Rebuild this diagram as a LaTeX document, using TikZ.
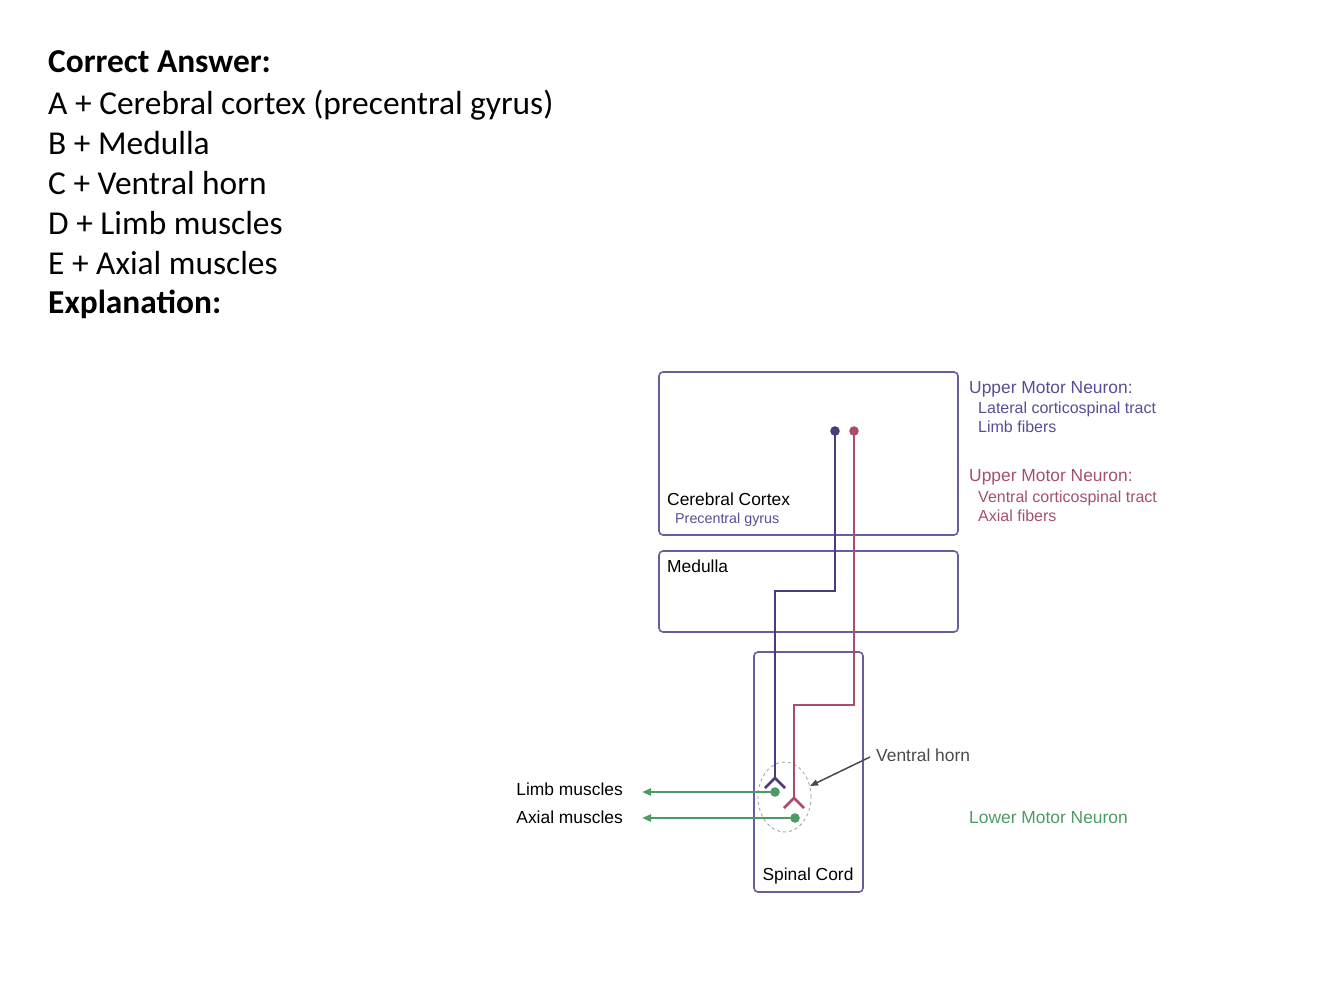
\documentclass[tikz,border=0pt]{standalone}
\usepackage{fontspec}
\setmainfont{Carlito}
\newfontfamily\hv{Liberation Sans}
\usetikzlibrary{arrows.meta,shapes.geometric}
\definecolor{boxpurple}{HTML}{6E5A9E}
\definecolor{umnpurple}{HTML}{4B3A7E}
\definecolor{umnred}{HTML}{A84E6C}
\definecolor{lmngreen}{HTML}{4E9A64}
\definecolor{labpurple}{HTML}{5B4B96}
\definecolor{labred}{HTML}{A5506A}
\definecolor{hornarrow}{HTML}{4A4A4A}
\begin{document}
\begin{tikzpicture}[x=1pt,y=-1pt,
  region/.style={draw=boxpurple,line width=1.6pt,rounded corners=4pt,inner sep=0pt},
  head/.style={anchor=base west,inner sep=0pt,font=\fontsize{33.4}{33.4}\selectfont},
  headb/.style={head,font=\bfseries\fontsize{33.4}{33.4}\selectfont},
  lab/.style={anchor=base west,inner sep=0pt,font=\hv\fontsize{17.4}{17.4}\selectfont},
  sublab/.style={anchor=base west,inner sep=0pt,font=\hv\fontsize{16}{16}\selectfont},
  smalllab/.style={anchor=base west,inner sep=0pt,font=\hv\fontsize{14.3}{14.3}\selectfont},
  tractP/.style={draw=umnpurple,line width=2.8pt},
  tractR/.style={draw=umnred,line width=2.8pt},
  lmn/.style={draw=lmngreen,line width=2.8pt,-{Triangle[length=9pt,width=7pt]}},
  fork/.style={line width=2.6pt},
]
\useasboundingbox (0,0) rectangle (1334,993);

% header text
\node[headb] (h0) at (48,72) {Correct Answer:};
\node[head] (h1) at (48,114) {A + Cerebral cortex (precentral gyrus)};
\node[head] (h2) at (48,154) {B + Medulla};
\node[head] (h3) at (48,194) {C + Ventral horn};
\node[head] (h4) at (48,234) {D + Limb muscles};
\node[head] (h5) at (48,274) {E + Axial muscles};
\node[headb] (h6) at (48,313) {Explanation:};

% regions
\node[region,minimum width=299pt,minimum height=163pt] (cortex) at (808.5,453.5) {};
\node[region,minimum width=299pt,minimum height=81pt] (medulla) at (808.5,591.5) {};
\node[region,minimum width=109pt,minimum height=240pt] (cord) at (808.5,772) {};

\node[lab] (cortexlab) at (667,505) {Cerebral Cortex};
\node[smalllab,text=labpurple] (gyruslab) at (675,523) {Precentral gyrus};
\node[lab] (medlab) at (667,572) {Medulla};
\node[lab,anchor=base] (cordlab) at (808,880) {Spinal Cord};

% right labels
\node[lab,text=labpurple] (umn1) at (969,393) {Upper Motor Neuron:};
\node[sublab,text=labpurple] (lat) at (978,413) {Lateral corticospinal tract};
\node[sublab,text=labpurple] (limbf) at (978,432) {Limb fibers};
\node[lab,text=labred] (umn2) at (969,481) {Upper Motor Neuron:};
\node[sublab,text=labred] (ven) at (978,502) {Ventral corticospinal tract};
\node[sublab,text=labred] (axf) at (978,521) {Axial fibers};
\node[lab,text=lmngreen] (lmnlab) at (969,823) {Lower Motor Neuron};

% muscle labels
\node[lab,anchor=base east] (limbm) at (623,795) {Limb muscles};
\node[lab,anchor=base east] (axialm) at (623,823) {Axial muscles};
\coordinate (limbend) at (642,792);
\coordinate (axialend) at (642,818);

% ventral horn
\node[ellipse,draw=gray!70,dashed,line width=0.9pt,minimum width=53pt,minimum height=70pt,inner sep=0pt] (horn) at (784.5,797) {};
\node[lab,text=hornarrow] (hornlab) at (876,761) {Ventral horn};
\coordinate (hornstart) at (870,757);
\coordinate (horntip) at (810,786);
\draw[hornarrow,line width=1.5pt,-{Triangle[length=8pt,width=6pt]}] (hornstart) -- (horntip);

% upper motor neuron: lateral (purple)
\coordinate (pdot) at (835,431);
\coordinate (pfork) at (775,778);
\draw[tractP] (pdot) -- (835,591) -- (775,591) -- (pfork);
\fill[umnpurple] (pdot) circle (4.8pt);
\draw[umnpurple,fork] (765,788) -- (pfork) -- (785,788);

% upper motor neuron: ventral (red)
\coordinate (rdot) at (854,431);
\coordinate (rfork) at (794,798);
\draw[tractR] (rdot) -- (854,705) -- (794,705) -- (rfork);
\fill[umnred] (rdot) circle (4.8pt);
\draw[umnred,fork] (784,808) -- (rfork) -- (804,808);

% lower motor neurons
\coordinate (gdot1) at (775,792);
\coordinate (gdot2) at (795,818);
\draw[lmn] (gdot1) -- (limbend);
\draw[lmn] (gdot2) -- (axialend);
\fill[lmngreen] (gdot1) circle (4.8pt);
\fill[lmngreen] (gdot2) circle (4.8pt);
\end{tikzpicture}
\end{document}
